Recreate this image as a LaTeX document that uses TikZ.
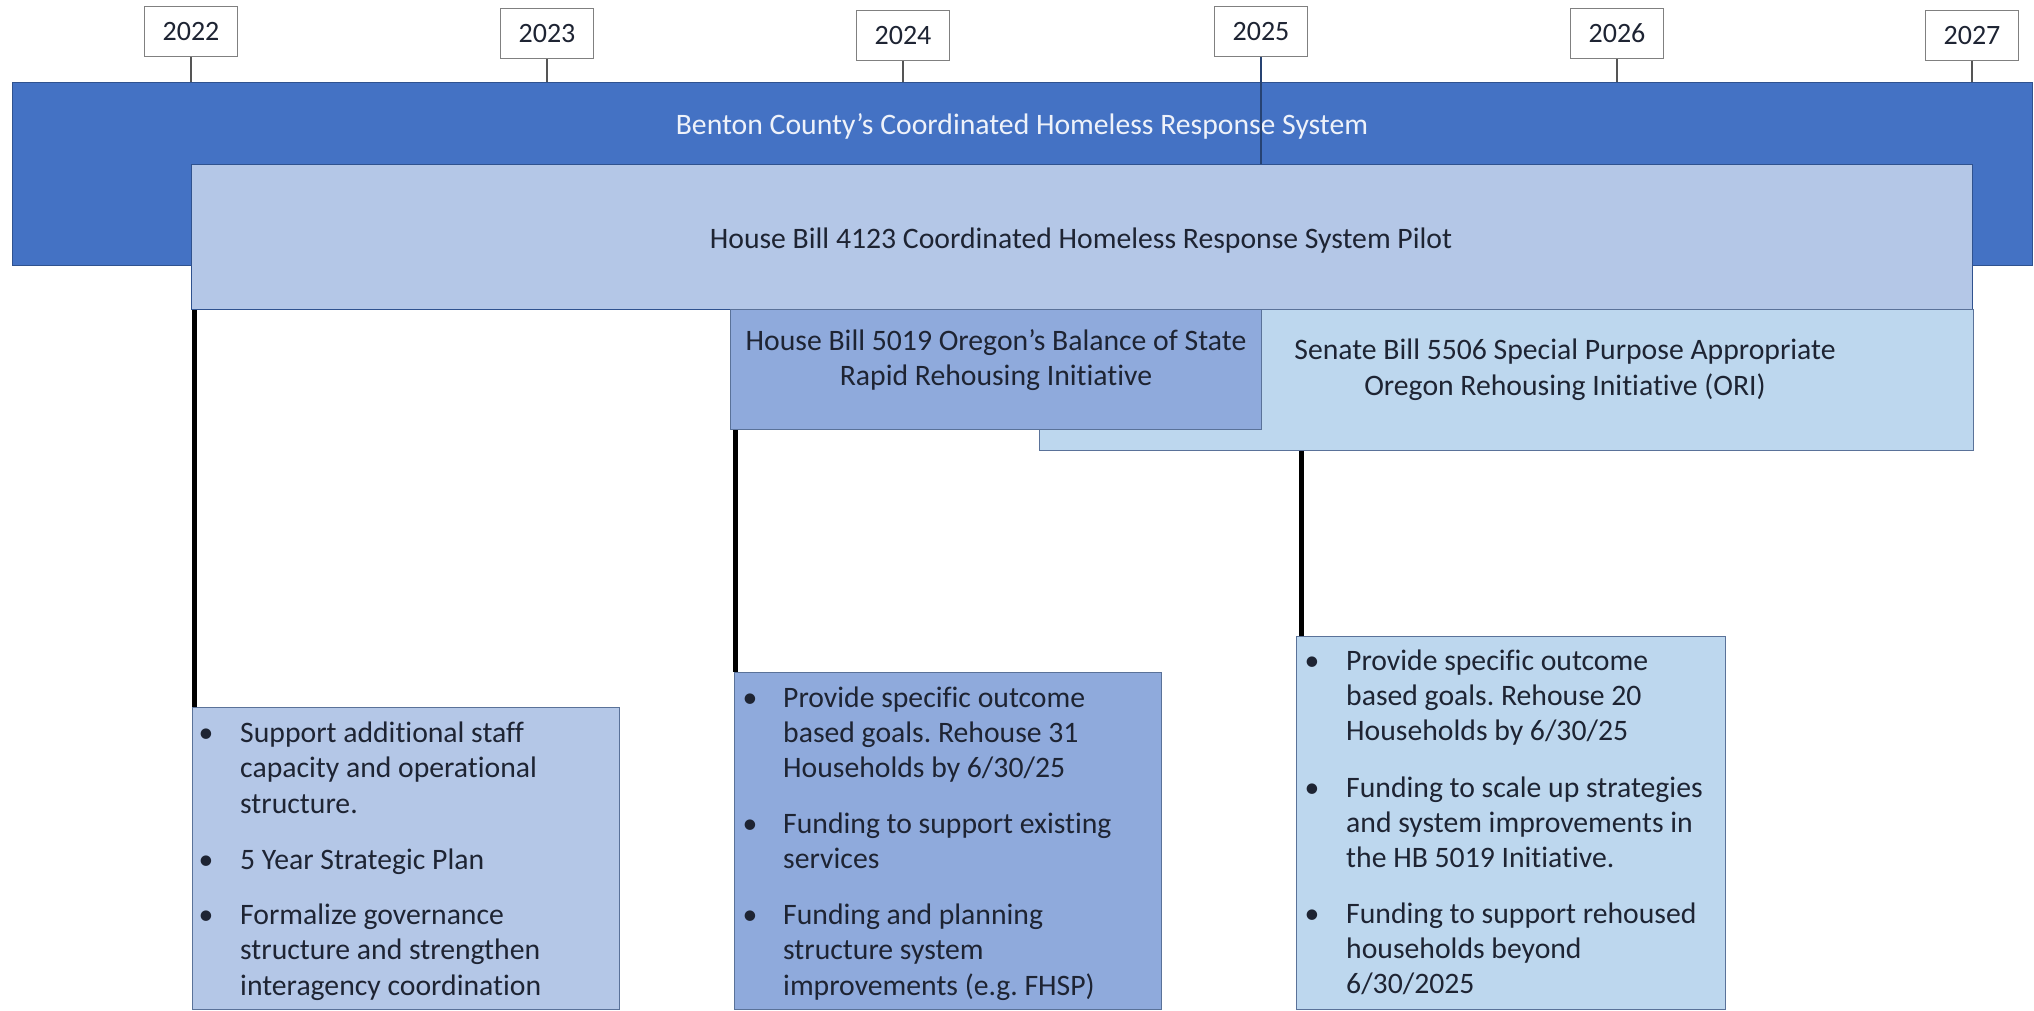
\documentclass[tikz,border=0pt]{standalone}
\usepackage{fontspec}
\setmainfont{Carlito}[Ligatures=NoCommon]
\frenchspacing
\definecolor{bandblue}{HTML}{4472C4}
\definecolor{bandedge}{HTML}{2F528F}
\definecolor{pilotfill}{HTML}{B4C7E7}
\definecolor{midfill}{HTML}{8FAADC}
\definecolor{palefill}{HTML}{BDD7EE}
\definecolor{paneledge}{HTML}{5A7299}
\definecolor{txtdark}{HTML}{1E2433}
\definecolor{lighttxt}{HTML}{EEF2FA}
\definecolor{yeargray}{HTML}{808080}
\definecolor{tickgray}{HTML}{555555}
\tikzset{
  yearbox/.style={draw=yeargray, line width=1.3pt, fill=white, minimum width=93pt, minimum height=50pt, inner sep=0pt, anchor=north, font=\fontsize{28}{34}\selectfont, text=txtdark},
  tickln/.style={draw=tickgray, line width=1.3pt},
  panel/.style={anchor=north west, inner sep=0pt, line width=1.3pt, draw=paneledge},
  txt/.style={font=\fontsize{29.7}{35}\selectfont\frenchspacing, text=txtdark, inner sep=0pt},
  ln/.style={txt, anchor=base west},
  bul/.style={txt, anchor=base},
  ttl/.style={txt, anchor=base},
  stem/.style={line width=5pt, draw=black},
}
\begin{document}
\begin{tikzpicture}[x=1pt,y=-1pt]
\clip (0,0) rectangle (2034,1011);
\fill[white] (0,0) rectangle (2034,1011);

% year boxes
\node[yearbox] (y22) at (191,6) {2022};
\node[yearbox] (y23) at (547,8) {2023};
\node[yearbox] (y24) at (903,10) {2024};
\node[yearbox] (y25) at (1261,6) {2025};
\node[yearbox] (y26) at (1617,8) {2026};
\node[yearbox] (y27) at (1972,10) {2027};

% main band
\node[panel, draw=bandedge, fill=bandblue, minimum width=2020pt, minimum height=183pt] (band) at (12,82) {};
\node[ttl, text=lighttxt] (bandtxt) at (1022,135) {Benton County’s Coordinated Homeless Response System};

% ticks
\draw[tickln] (y22.south) -- (y22.south |- band.north);
\draw[tickln] (y23.south) -- (y23.south |- band.north);
\draw[tickln] (y24.south) -- (y24.south |- band.north);
\draw[tickln] (y26.south) -- (y26.south |- band.north);
\draw[tickln] (y27.south) -- (y27.south |- band.north);

% pilot
\node[panel, draw=bandedge, fill=pilotfill, minimum width=1781pt, minimum height=145pt] (pilot) at (191,164) {};
\draw[tickln, draw=bandedge!80!black] (y25.south) -- (y25.south |- pilot.north);
\node[ttl] (pilottxt) at (1081,248) {House Bill 4123 Coordinated Homeless Response System Pilot};

% SB 5506 and HB 5019
\node[panel, fill=palefill, minimum width=934pt, minimum height=141pt] (sb) at (1039,309) {};
\node[panel, fill=midfill, minimum width=531pt, minimum height=120pt] (hb) at (730,309) {};
\node[ttl] (hbl1) at (996,350) {House Bill 5019 Oregon’s Balance of State};
\node[ttl] (hbl2) at (996,385) {Rapid Rehousing Initiative};
\node[ttl] (sbl1) at (1565,359) {Senate Bill 5506 Special Purpose Appropriate};
\node[ttl] (sbl2) at (1565,395) {Oregon Rehousing Initiative (ORI)};

% detail boxes
\node[panel, fill=pilotfill, minimum width=427pt, minimum height=302pt] (b1) at (192,707) {};
\node[panel, fill=midfill, minimum width=427pt, minimum height=337pt] (b2) at (734,672) {};
\node[panel, fill=palefill, minimum width=429pt, minimum height=373pt] (b3) at (1296,636) {};

% stems
\draw[stem] ([xshift=2pt]b1.north west) -- ([xshift=2pt]b1.north west |- pilot.south);
\draw[stem] ([xshift=1pt]b2.north west) -- ([xshift=1pt]b2.north west |- hb.south);
\draw[stem] ([xshift=5pt]b3.north west) -- ([xshift=5pt]b3.north west |- sb.south);

% box 1 text
\node[bul] (b1d1) at (206,742) {•};
\node[ln] (b1a) at (240,742) {Support additional staff};
\node[ln] (b1b) at (240,777.5) {capacity and operational};
\node[ln] (b1c) at (240,813) {structure.};
\node[bul] (b1d2) at (206,869) {•};
\node[ln] (b1e) at (240,869) {5 Year Strategic Plan};
\node[bul] (b1d3) at (206,924) {•};
\node[ln] (b1f) at (240,924) {Formalize governance};
\node[ln] (b1g) at (240,959.5) {structure and strengthen};
\node[ln] (b1h) at (240,995) {interagency coordination};

% box 2 text
\node[bul] (b2d1) at (750,707) {•};
\node[ln] (b2a) at (783,707) {Provide specific outcome};
\node[ln] (b2b) at (783,742) {based goals. Rehouse 31};
\node[ln] (b2c) at (783,777) {Households by 6/30/25};
\node[bul] (b2d2) at (750,833) {•};
\node[ln] (b2e) at (783,833) {Funding to support existing};
\node[ln] (b2f) at (783,868.5) {services};
\node[bul] (b2d3) at (750,924) {•};
\node[ln] (b2g) at (783,924) {Funding and planning};
\node[ln] (b2h) at (783,959.5) {structure system};
\node[ln] (b2i) at (783,995) {improvements (e.g. FHSP)};

% box 3 text
\node[bul] (b3d1) at (1312,670) {•};
\node[ln] (b3a) at (1346,670) {Provide specific outcome};
\node[ln] (b3b) at (1346,705) {based goals. Rehouse 20};
\node[ln] (b3c) at (1346,740) {Households by 6/30/25};
\node[bul] (b3d2) at (1312,797) {•};
\node[ln] (b3e) at (1346,797) {Funding to scale up strategies};
\node[ln] (b3f) at (1346,832) {and system improvements in};
\node[ln] (b3g) at (1346,867) {the HB 5019 Initiative.};
\node[bul] (b3d3) at (1312,923) {•};
\node[ln] (b3h) at (1346,923) {Funding to support rehoused};
\node[ln] (b3i) at (1346,958) {households beyond};
\node[ln] (b3j) at (1346,993) {6/30/2025};
\end{tikzpicture}
\end{document}
